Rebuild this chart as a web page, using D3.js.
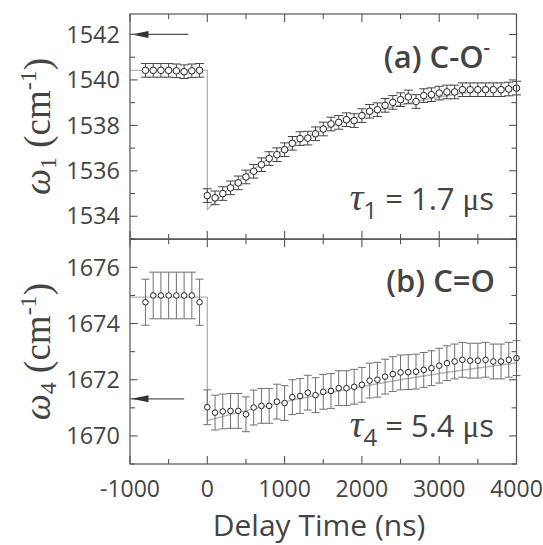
<!DOCTYPE html>
<html><head><meta charset="utf-8">
<script src="https://cdn.jsdelivr.net/npm/d3@7"></script>
<style>body{margin:0;background:#fff}</style>
</head><body>
<svg id="c" width="543" height="545"></svg>
<script>
// ---------- data ----------
const xTicksMajor = [-1000, 0, 1000, 2000, 3000, 4000];
const xTicksMinor = [-500, 500, 1500, 2500, 3500];
const preTimes = [-800, -700, -600, -500, -400, -300, -200, -100];
const postTimes = [0,100,200,300,400,500,600,700,800,900,1000,1100,1200,1300,1400,1500,1600,1700,1800,1900,2000,2100,2200,2300,2400,2500,2600,2700,2800,2900,3000,3100,3200,3300,3400,3500,3600,3700,3800,3900,4000];

const topPre = [1540.42, 1540.42, 1540.42, 1540.42, 1540.40, 1540.36, 1540.40, 1540.42];
const topPreErr = [0.3, 0.3, 0.3, 0.3, 0.3, 0.3, 0.3, 0.3];
const topPost = [1534.91,1534.81,1535.00,1535.25,1535.47,1535.73,1535.98,1536.27,1536.54,1536.71,1536.93,1537.21,1537.42,1537.44,1537.63,1537.84,1538.06,1538.13,1538.25,1538.21,1538.43,1538.62,1538.69,1538.88,1539.01,1539.13,1539.25,1539.05,1539.31,1539.35,1539.42,1539.47,1539.47,1539.57,1539.57,1539.57,1539.57,1539.57,1539.57,1539.60,1539.64];
const topPostErr = 0.3;
const topFitT = [-1000, 0, 0, 250, 500, 750, 1000, 1250, 1500, 1750, 2000, 2250, 2500, 2750, 3000, 3250, 3500, 3750, 4000];
const topFitV = [1540.42, 1540.42, 1534.30, 1535.12, 1535.82, 1536.43, 1536.95, 1537.41, 1537.80, 1538.14, 1538.43, 1538.68, 1538.90, 1539.09, 1539.25, 1539.39, 1539.51, 1539.61, 1539.70];
const topTicksMajor = [1534, 1536, 1538, 1540, 1542];
const topTicksMinor = [1533, 1535, 1537, 1539, 1541];
const topArrow = {value: 1542, from: -1000, to: -245};

const botPre = [1674.76, 1675.0, 1675.0, 1675.0, 1675.0, 1675.0, 1675.0, 1674.76];
const botPreErr = [0.82, 0.83, 0.83, 0.83, 0.83, 0.83, 0.83, 0.82];
const botPost = [1671.02,1670.83,1670.87,1670.89,1670.89,1670.77,1671.01,1671.07,1671.07,1671.22,1671.17,1671.38,1671.42,1671.54,1671.45,1671.57,1671.60,1671.70,1671.70,1671.75,1671.82,1671.97,1672.00,1672.11,1672.20,1672.26,1672.27,1672.29,1672.35,1672.41,1672.50,1672.59,1672.65,1672.71,1672.68,1672.68,1672.71,1672.65,1672.65,1672.71,1672.77];
const botPostErr = 0.62;
const botFitT = [-1000, 0, 0, 500, 1000, 1500, 2000, 2500, 3000, 3500, 4000];
const botFitV = [1674.94, 1674.94, 1670.55, 1670.90, 1671.21, 1671.50, 1671.76, 1672.00, 1672.22, 1672.42, 1672.60];
const botTicksMajor = [1670, 1672, 1674, 1676];
const botTicksMinor = [1669, 1671, 1673, 1675, 1677];
const botArrow = {value: 1671.32, from: -1000, to: -300};

// ---------- layout ----------
const svg = d3.select("#c");
const L = 130, R = 516.5;
const x = d3.scaleLinear().domain([-1000, 4000]).range([L, R]);
const yTop = d3.scaleLinear().domain([1533, 1542.9]).range([239, 14]);
const yBot = d3.scaleLinear().domain([1669, 1677]).range([464, 239.3]);
const frameCol = "#555", textCol = "#444";
const sans = "'Open Sans', 'Noto Sans', sans-serif";
const serif = "'Liberation Serif', 'DejaVu Serif', serif";

function panel(y, opts) {
  const g = svg.append("g");
  const [y0, y1] = y.range();
  const line = d3.line().x(d => x(d[0])).y(d => y(d[1]));
  g.append("path").datum(opts.fitT.map((t, i) => [t, opts.fitV[i]]))
    .attr("d", line).attr("fill", "none").attr("stroke", "#b5b5b5").attr("stroke-width", 1.4);
  const pts = opts.preT.map((t, i) => ({t, v: opts.pre[i], e: opts.preErr[i]}))
    .concat(postTimes.map((t, i) => ({t, v: opts.post[i], e: opts.postErr})));
  const eb = g.append("g").attr("stroke", opts.errCol).attr("stroke-width", 1);
  pts.forEach(p => {
    const cx = x(p.t);
    eb.append("line").attr("x1", cx).attr("x2", cx).attr("y1", y(p.v + p.e)).attr("y2", y(p.v - p.e));
    [p.v + p.e, p.v - p.e].forEach(v => eb.append("line").attr("x1", cx - opts.cap).attr("x2", cx + opts.cap).attr("y1", y(v)).attr("y2", y(v)));
  });
  g.append("g").selectAll("circle").data(pts).join("circle")
    .attr("cx", d => x(d.t)).attr("cy", d => y(d.v)).attr("r", opts.r)
    .attr("fill", "#fff").attr("stroke", "#222").attr("stroke-width", 1);
  const ay = y(opts.arrow.value);
  g.append("line").attr("x1", x(opts.arrow.from)).attr("x2", x(opts.arrow.to)).attr("y1", ay).attr("y2", ay)
    .attr("stroke", "#555").attr("stroke-width", 1.2);
  const ax = x(opts.arrow.from) + 1.5;
  g.append("path").attr("d", `M${ax},${ay} L${ax + 17},${ay - 3.5} L${ax + 17},${ay + 3.5} Z`).attr("fill", "#333");
  g.append("rect").attr("x", L).attr("y", y1).attr("width", R - L).attr("height", y0 - y1)
    .attr("fill", "none").attr("stroke", frameCol).attr("stroke-width", 1.2);
  const tk = g.append("g").attr("stroke", frameCol).attr("stroke-width", 1.1);
  const addX = (arr, len) => arr.forEach(t => {
    tk.append("line").attr("x1", x(t)).attr("x2", x(t)).attr("y1", y1).attr("y2", y1 + len);
    tk.append("line").attr("x1", x(t)).attr("x2", x(t)).attr("y1", y0).attr("y2", y0 - len);
  });
  addX(xTicksMajor, 8); addX(xTicksMinor, 5);
  const addY = (arr, len) => arr.forEach(v => {
    tk.append("line").attr("x1", L).attr("x2", L + len).attr("y1", y(v)).attr("y2", y(v));
    tk.append("line").attr("x1", R).attr("x2", R - len).attr("y1", y(v)).attr("y2", y(v));
  });
  addY(opts.major, 7.5); addY(opts.minor, 5);
  g.append("g").selectAll("text").data(opts.major).join("text")
    .attr("x", L - 10).attr("y", d => y(d)).attr("dy", "0.35em").attr("text-anchor", "end")
    .attr("font-family", sans).attr("font-size", 23.5).attr("fill", textCol).text(d => d);
  const tt = g.append("text").attr("transform", `translate(50,${(y0 + y1) / 2}) rotate(-90)`)
    .attr("text-anchor", "middle").attr("font-family", serif).attr("font-size", 37).attr("fill", textCol);
  tt.append("tspan").attr("font-style", "italic").text("ω");
  tt.append("tspan").attr("font-size", 24).attr("dy", 6).text(opts.sub);
  tt.append("tspan").attr("dy", -6).text(" (cm");
  tt.append("tspan").attr("font-size", 24).attr("dy", -14).text("-1");
  tt.append("tspan").attr("dy", 14).text(")");
  const lab = g.append("text").attr("x", opts.labX).attr("y", opts.labY).attr("text-anchor", "end")
    .attr("font-family", sans).attr("font-weight", 600).attr("font-size", 31).attr("fill", textCol);
  lab.append("tspan").text(opts.label);
  if (opts.labSup) lab.append("tspan").attr("font-size", 20).attr("dy", -14).text(opts.labSup);
  const tl = g.append("text").attr("x", 494).attr("y", opts.tauY).attr("text-anchor", "end")
    .attr("font-size", 31).attr("fill", textCol).attr("font-family", sans);
  tl.append("tspan").attr("font-family", serif).attr("font-style", "italic").attr("font-size", 38).text("τ");
  tl.append("tspan").attr("font-size", 24).attr("dy", 9).text(opts.sub);
  tl.append("tspan").attr("dy", -9).text(" = " + opts.tau + " ");
  tl.append("tspan").attr("font-family", serif).text("μ");
  tl.append("tspan").text("s");
}

panel(yTop, {preT: preTimes, pre: topPre, preErr: topPreErr, post: topPost, postErr: topPostErr,
  fitT: topFitT, fitV: topFitV, major: topTicksMajor, minor: topTicksMinor, arrow: topArrow,
  errCol: "#444", cap: 4.5, r: 3.3, sub: "1", label: "(a) C-O", labSup: "-", labX: 490, labY: 68,
  tau: "1.7", tauY: 210});
panel(yBot, {preT: preTimes, pre: botPre, preErr: botPreErr, post: botPost, postErr: botPostErr,
  fitT: botFitT, fitV: botFitV, major: botTicksMajor, minor: botTicksMinor, arrow: botArrow,
  errCol: "#707070", cap: 4, r: 2.8, sub: "4", label: "(b) C=O", labSup: null, labX: 495, labY: 291.5,
  tau: "5.4", tauY: 436.5});

svg.append("g").selectAll("text").data(xTicksMajor).join("text")
  .attr("x", d => x(d)).attr("y", 497).attr("text-anchor", "middle")
  .attr("font-family", sans).attr("font-size", 23).attr("fill", textCol).text(d => d);
svg.append("text").attr("x", 319).attr("y", 536).attr("text-anchor", "middle")
  .attr("font-family", sans).attr("font-size", 30).attr("fill", textCol).text("Delay Time (ns)");
</script>
</body></html>
